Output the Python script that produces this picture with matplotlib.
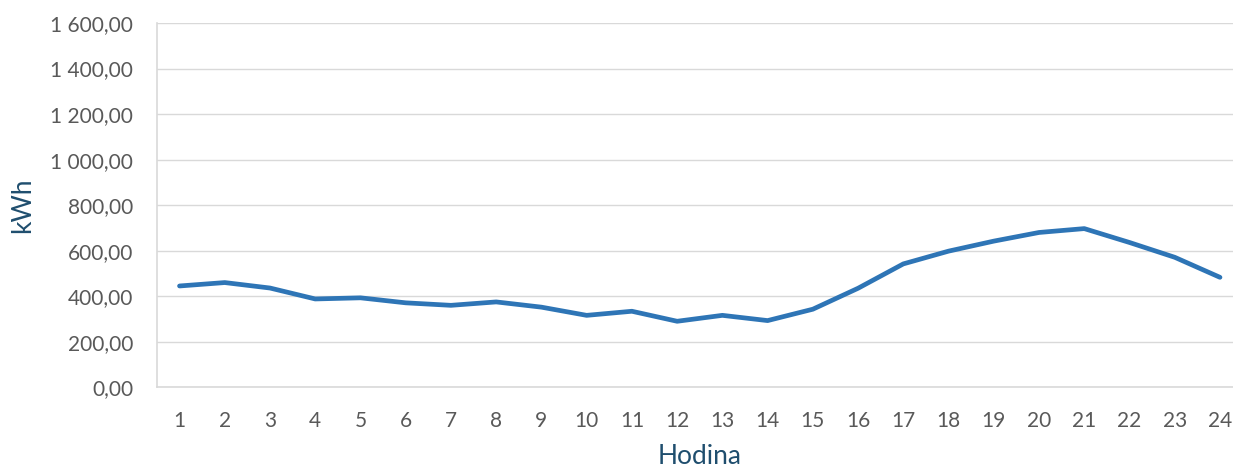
import matplotlib
matplotlib.use("Agg")
import matplotlib.pyplot as plt
from matplotlib.ticker import FuncFormatter, MultipleLocator

# Hourly consumption
hours = list(range(1, 25))
kwh = [445, 460, 436, 388, 393, 371, 360, 375, 352, 316, 334, 290,
       316, 293, 343, 435, 542, 598, 642, 680, 697, 636, 571, 483]

x_label = "Hodina"
y_label = "kWh"

plt.rcParams["font.family"] = ["Lato", "DejaVu Sans"]

W, H = 1233, 468
fig = plt.figure(figsize=(W / 100, H / 100), dpi=100)
# axes box in pixels: left 157, right 1243, top 23, bottom 387
left, right, top, bottom = 156.9, 1242.6, 23.0, 387.3
ax = fig.add_axes([left / W, 1 - bottom / H, (right - left) / W, (bottom - top) / H])

ax.plot(hours, kwh, color="#2E75B6", linewidth=3.4,
        solid_capstyle="round", solid_joinstyle="round", zorder=3)

ax.set_xlim(0.5, 24.5)
ax.set_ylim(0, 1600)
ax.set_xticks(hours)
ax.yaxis.set_major_locator(MultipleLocator(200))


def fmt(v, _pos):
    s = f"{v:,.2f}"
    return s.replace(",", " ").replace(".", ",")


ax.yaxis.set_major_formatter(FuncFormatter(fmt))

grid_col = "#D9D9D9"
ax.grid(axis="y", color=grid_col, linewidth=1.0, zorder=0)
ax.set_axisbelow(True)
for side in ("top", "right"):
    ax.spines[side].set_visible(False)
for side in ("left", "bottom"):
    ax.spines[side].set_color(grid_col)
    ax.spines[side].set_linewidth(1.2)

ax.tick_params(axis="both", length=0, labelsize=15, labelcolor="#595959")
ax.tick_params(axis="y", pad=17)
ax.tick_params(axis="x", pad=17)

label_col = "#1F4E6E"
ax.set_xlabel(x_label, fontsize=19, color=label_col)
ax.xaxis.label.set_va("baseline")
ax.xaxis.set_label_coords(0.5, (bottom - 464) / (bottom - top))

ax.set_ylabel(y_label, fontsize=19, color=label_col)
ax.yaxis.label.set_va("center")
ax.yaxis.set_label_coords((23 - left) / (right - left), 0.5)

fig.savefig("out.png", dpi=100, facecolor="white")
